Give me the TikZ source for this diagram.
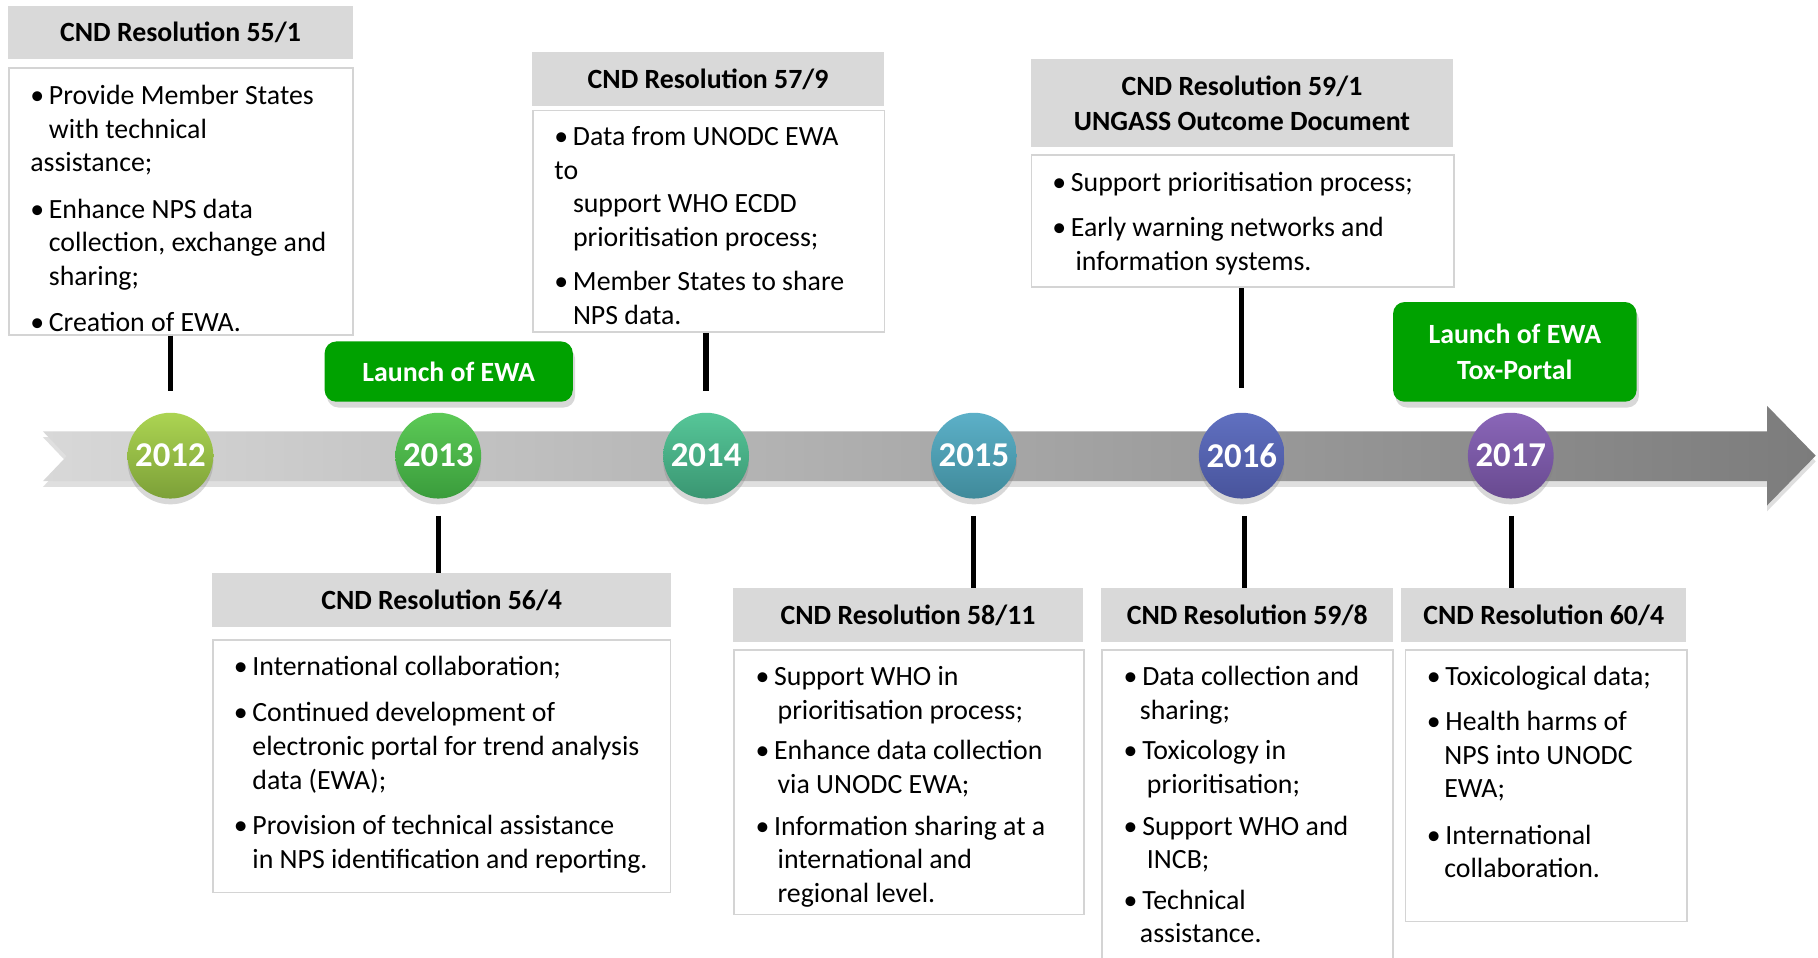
\documentclass[tikz,border=0pt]{standalone}
\usepackage{fontspec}
\setmainfont{Carlito}
\usetikzlibrary{shadows,calc}
\definecolor{hdrgray}{RGB}{217,217,217}
\definecolor{bordgray}{RGB}{212,212,212}
\definecolor{ewagreen}{RGB}{0,162,0}
\definecolor{bandL}{RGB}{216,216,216}
\definecolor{bandR}{RGB}{124,124,124}
\newcommand\bl{\makebox[16pt][l]{\textbullet}}
\newcommand\ind[1][16pt]{\hspace*{#1}}
\newcommand\fst{\rule{0pt}{19pt}}
\tikzset{
  hdr/.style={fill=hdrgray, draw=none, anchor=north west, inner sep=0pt,
    font=\fontsize{24}{30}\selectfont\bfseries, align=center},
  bodybox/.style={fill=white, draw=bordgray, line width=1.5pt, anchor=north west, inner sep=0pt},
  bodytxt/.style={anchor=north west, inner sep=0pt, align=left,
    font=\fontsize{24}{29}\selectfont},
  conn/.style={line width=4.5pt, black},
  yearc/.style={circle, minimum size=74pt, inner sep=0pt, text=white,
    font=\fontsize{30}{30}\selectfont\bfseries,
    drop shadow={opacity=0.3, shadow xshift=0pt, shadow yshift=-5pt}},
  launch/.style={fill=ewagreen, rounded corners=10pt, text=white, inner sep=0pt,
    font=\fontsize{24}{31}\selectfont\bfseries, align=center,
    drop shadow={opacity=0.3, shadow xshift=2pt, shadow yshift=-5pt}},
}
\begin{document}
\begin{tikzpicture}[x=1pt,y=-1pt]
\path[use as bounding box, clip] (0,0) rectangle (1568,826);
\fill[white] (0,0) rectangle (1568,826);

% timeline band
\path[left color=bandL, right color=bandR,
      drop shadow={opacity=0.25, shadow xshift=0pt, shadow yshift=-5pt}]
  (37,372) -- (1524,372) -- (1524,350) -- (1566,393) -- (1524,436)
  -- (1524,415) -- (37,415) -- (57.5,393.5) -- cycle;

% year circles
\node[yearc, top color={rgb,255:red,172;green,212;blue,82}, bottom color={rgb,255:red,124;green,160;blue,56}] (c12) at (147,393) {2012};
\node[yearc, top color={rgb,255:red,92;green,202;blue,86}, bottom color={rgb,255:red,58;green,156;blue,60}] (c13) at (378,393) {2013};
\node[yearc, top color={rgb,255:red,86;green,198;blue,152}, bottom color={rgb,255:red,58;green,150;blue,114}] (c14) at (609,393) {2014};
\node[yearc, top color={rgb,255:red,92;green,176;blue,200}, bottom color={rgb,255:red,64;green,138;blue,154}] (c15) at (840,393) {2015};
\node[yearc, top color={rgb,255:red,96;green,112;blue,192}, bottom color={rgb,255:red,72;green,84;blue,156}] (c16) at (1071,393) {2016};
\node[yearc, top color={rgb,255:red,138;green,102;blue,184}, bottom color={rgb,255:red,104;green,74;blue,144}] (c17) at (1303,393) {2017};

% launch boxes
\node[launch, minimum width=214pt, minimum height=52pt] (L1) at (387,320.5) {Launch of EWA};
\node[launch, minimum width=210pt, minimum height=86pt] (L2) at (1306.5,303.5) {Launch of EWA\\Tox-Portal};

% ---- top boxes ----
\node[hdr, minimum width=297pt, minimum height=46pt] (h551) at (7,5) {CND Resolution 55/1};
\node[bodybox, minimum width=297pt, minimum height=230pt] (b551) at (7,58) {};
\node[bodytxt] (x551) at (26,71) {\fst\bl Provide Member States\\
\ind with technical\\
assistance;\\[11pt]
\bl Enhance NPS data\\
\ind collection, exchange and\\
\ind sharing;\\[11pt]
\bl Creation of EWA.};

\node[hdr, minimum width=303pt, minimum height=46.5pt] (h579) at (459,45) {CND Resolution 57/9};
\node[bodybox, minimum width=303pt, minimum height=191pt] (b579) at (459,94.5) {};
\node[bodytxt] (x579) at (478,106.5) {\fst\bl Data from UNODC EWA\\
to\\
\ind support WHO ECDD\\
\ind prioritisation process;\\[9pt]
\bl Member States to share\\
\ind NPS data.};

\node[hdr, minimum width=364pt, minimum height=75.5pt] (h591) at (889,51) {CND Resolution 59/1\\UNGASS Outcome Document};
\node[bodybox, minimum width=364pt, minimum height=114pt] (b591) at (889,133) {};
\node[bodytxt] (x591) at (907.5,146) {\fst\bl Support prioritisation process;\\[10pt]
\bl Early warning networks and\\
\ind[20pt]information systems.};

% ---- bottom boxes ----
\node[hdr, minimum width=395.5pt, minimum height=46.5pt] (h564) at (183,494) {CND Resolution 56/4};
\node[bodybox, minimum width=394.5pt, minimum height=218pt] (b564) at (183,551) {};
\node[bodytxt] (x564) at (201.5,563.5) {\fst\bl International collaboration;\\[11pt]
\bl Continued development of\\
\ind electronic portal for trend analysis\\
\ind data (EWA);\\[10pt]
\bl Provision of technical assistance\\
\ind in NPS identification and reporting.};

\node[hdr, minimum width=302pt, minimum height=46.5pt] (h5811) at (632,507) {CND Resolution 58/11};
\node[bodybox, minimum width=302pt, minimum height=228pt] (b5811) at (632,560) {};
\node[bodytxt] (x5811) at (651.5,572) {\fst\bl Support WHO in\\
\ind[19pt]prioritisation process;\\[6pt]
\bl Enhance data collection\\
\ind[19pt]via UNODC EWA;\\[7pt]
\bl Information sharing at a\\
\ind[19pt]international and\\
\ind[19pt]regional level.};

\node[hdr, minimum width=252pt, minimum height=46.5pt] (h598) at (949.5,507) {CND Resolution 59/8};
\node[bodybox, minimum width=251pt, minimum height=290pt] (b598) at (949.5,560) {};
\node[bodytxt] (x598) at (969,572) {\fst\bl Data collection and\\
\ind[14pt]sharing;\\[6pt]
\bl Toxicology in\\
\ind[20pt]prioritisation;\\[7pt]
\bl Support WHO and\\
\ind[20pt]INCB;\\[6pt]
\bl Technical\\
\ind[14pt]assistance.};

\node[hdr, minimum width=245.5pt, minimum height=46.5pt] (h604) at (1208.5,507) {CND Resolution 60/4};
\node[bodybox, minimum width=242.5pt, minimum height=234pt] (b604) at (1211.5,560) {};
\node[bodytxt] (x604) at (1230.5,572) {\fst\bl Toxicological data;\\[10pt]
\bl Health harms of\\
\ind[15pt]NPS into UNODC\\
\ind[15pt]EWA;\\[11pt]
\bl International\\
\ind[15pt]collaboration.};

% ---- connectors ----
\coordinate (t12) at (147,337);
\coordinate (t14) at (609,337);
\coordinate (t16) at (1070.5,334.5);
\coordinate (t13) at (378,445);
\coordinate (t15) at (839.5,445);
\coordinate (t16b) at (1073.5,445);
\coordinate (t17) at (1303.5,445);
\draw[conn] (b551.south -| t12) -- (t12);
\draw[conn] (b579.south -| t14) -- (t14);
\draw[conn] (b591.south -| t16) -- (t16);
\draw[conn] (t13) -- (t13 |- h564.north);
\draw[conn] (t15) -- (t15 |- h5811.north);
\draw[conn] (t16b) -- (t16b |- h598.north);
\draw[conn] (t17) -- (t17 |- h604.north);
\end{tikzpicture}
\end{document}
